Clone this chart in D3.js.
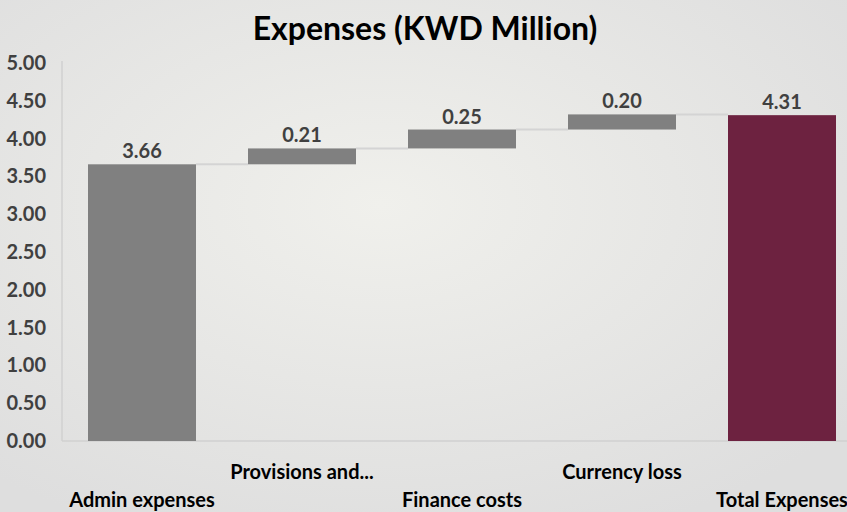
<!DOCTYPE html>
<html>
<head>
<meta charset="utf-8">
<script src="https://cdn.jsdelivr.net/npm/d3@7"></script>
<style>
  html, body { margin: 0; padding: 0; }
  body { width: 847px; height: 512px; overflow: hidden; }
  text { font-family: Lato, "Open Sans", sans-serif; font-weight: bold; }
</style>
</head>
<body>
<div id="chart"></div>
<script>
/**
 * DATA
 * */
const categories = ["Admin expenses", "Provisions and...", "Finance costs", "Currency loss", "Total Expenses"];
const values = [3.66, 0.21, 0.25, 0.20, 4.31];
const isTotal = [true, false, false, false, true];
const yTicks = [0, 0.5, 1, 1.5, 2, 2.5, 3, 3.5, 4, 4.5, 5];

/**
 * CONSTANTS
 * */
const width = 847, height = 512;
const margin = { top: 63, bottom: 71, left: 62 };

// build waterfall start/end from values
let running = 0;
const rows = categories.map((c, i) => {
  let start, end;
  if (isTotal[i]) { start = 0; end = values[i]; running = values[i]; }
  else { start = running; end = running + values[i]; running = end; }
  return { name: c, value: values[i], start, end, total: isTotal[i], i };
});

const svg = d3.select("#chart").append("svg")
  .attr("width", width)
  .attr("height", height);

// background
const defs = svg.append("defs");
const grad = defs.append("radialGradient")
  .attr("id", "bg")
  .attr("cx", "45%").attr("cy", "40%").attr("r", "70%");
grad.append("stop").attr("offset", "0%").attr("stop-color", "#f0f0ec");
grad.append("stop").attr("offset", "100%").attr("stop-color", "#dedede");
svg.append("rect").attr("width", width).attr("height", height).attr("fill", "url(#bg)");

const x = d3.scaleBand()
  .domain(categories)
  .range([margin.left, margin.left + 800])
  .paddingInner(0.325)
  .paddingOuter(0.1625);

const y = d3.scaleLinear()
  .domain([0, 5])
  .range([height - margin.bottom, margin.top]);

// title
svg.append("text")
  .attr("x", 425)
  .attr("y", 40)
  .attr("text-anchor", "middle")
  .attr("font-size", 32)
  .attr("font-weight", 900)
  .attr("fill", "#000")
  .text("Expenses (KWD Million)");

// axes lines
svg.append("line")
  .attr("x1", margin.left).attr("x2", margin.left)
  .attr("y1", y(5) - 2).attr("y2", y(0))
  .attr("stroke", "#d0d0d0").attr("stroke-width", 1.5);
svg.append("line")
  .attr("x1", margin.left).attr("x2", width)
  .attr("y1", y(0)).attr("y2", y(0))
  .attr("stroke", "#d0d0d0").attr("stroke-width", 1.5);

// y tick labels
svg.append("g").selectAll("text")
  .data(yTicks)
  .join("text")
  .attr("x", 46)
  .attr("y", d => y(d))
  .attr("dy", "0.35em")
  .attr("text-anchor", "end")
  .attr("font-size", 20)
  .attr("fill", "#404040")
  .text(d => d3.format(".2f")(d));

// connectors
svg.append("g").selectAll("line")
  .data(rows.slice(0, -1))
  .join("line")
  .attr("x1", d => x(d.name) + x.bandwidth())
  .attr("x2", d => x(categories[d.i + 1]))
  .attr("y1", d => y(d.end))
  .attr("y2", d => y(d.end))
  .attr("stroke", "#d4d4d4")
  .attr("stroke-width", 2);

// bars
svg.append("g").selectAll("rect")
  .data(rows)
  .join("rect")
  .attr("x", d => x(d.name))
  .attr("width", x.bandwidth())
  .attr("y", d => y(d.end))
  .attr("height", d => y(d.start) - y(d.end))
  .attr("fill", d => d.i === rows.length - 1 ? "#6d2240" : "#808080");

// value labels
svg.append("g").selectAll("text")
  .data(rows)
  .join("text")
  .attr("x", d => x(d.name) + x.bandwidth() / 2)
  .attr("y", d => y(d.end) - 6)
  .attr("text-anchor", "middle")
  .attr("font-size", 20)
  .attr("fill", "#404040")
  .text(d => d3.format(".2f")(d.value));

// x labels, staggered
svg.append("g").selectAll("text")
  .data(rows)
  .join("text")
  .attr("x", d => x(d.name) + x.bandwidth() / 2)
  .attr("y", d => d.i % 2 === 0 ? 507 : 479)
  .attr("text-anchor", "middle")
  .attr("font-size", 20)
  .attr("fill", "#000")
  .text(d => d.name);
</script>
</body>
</html>
